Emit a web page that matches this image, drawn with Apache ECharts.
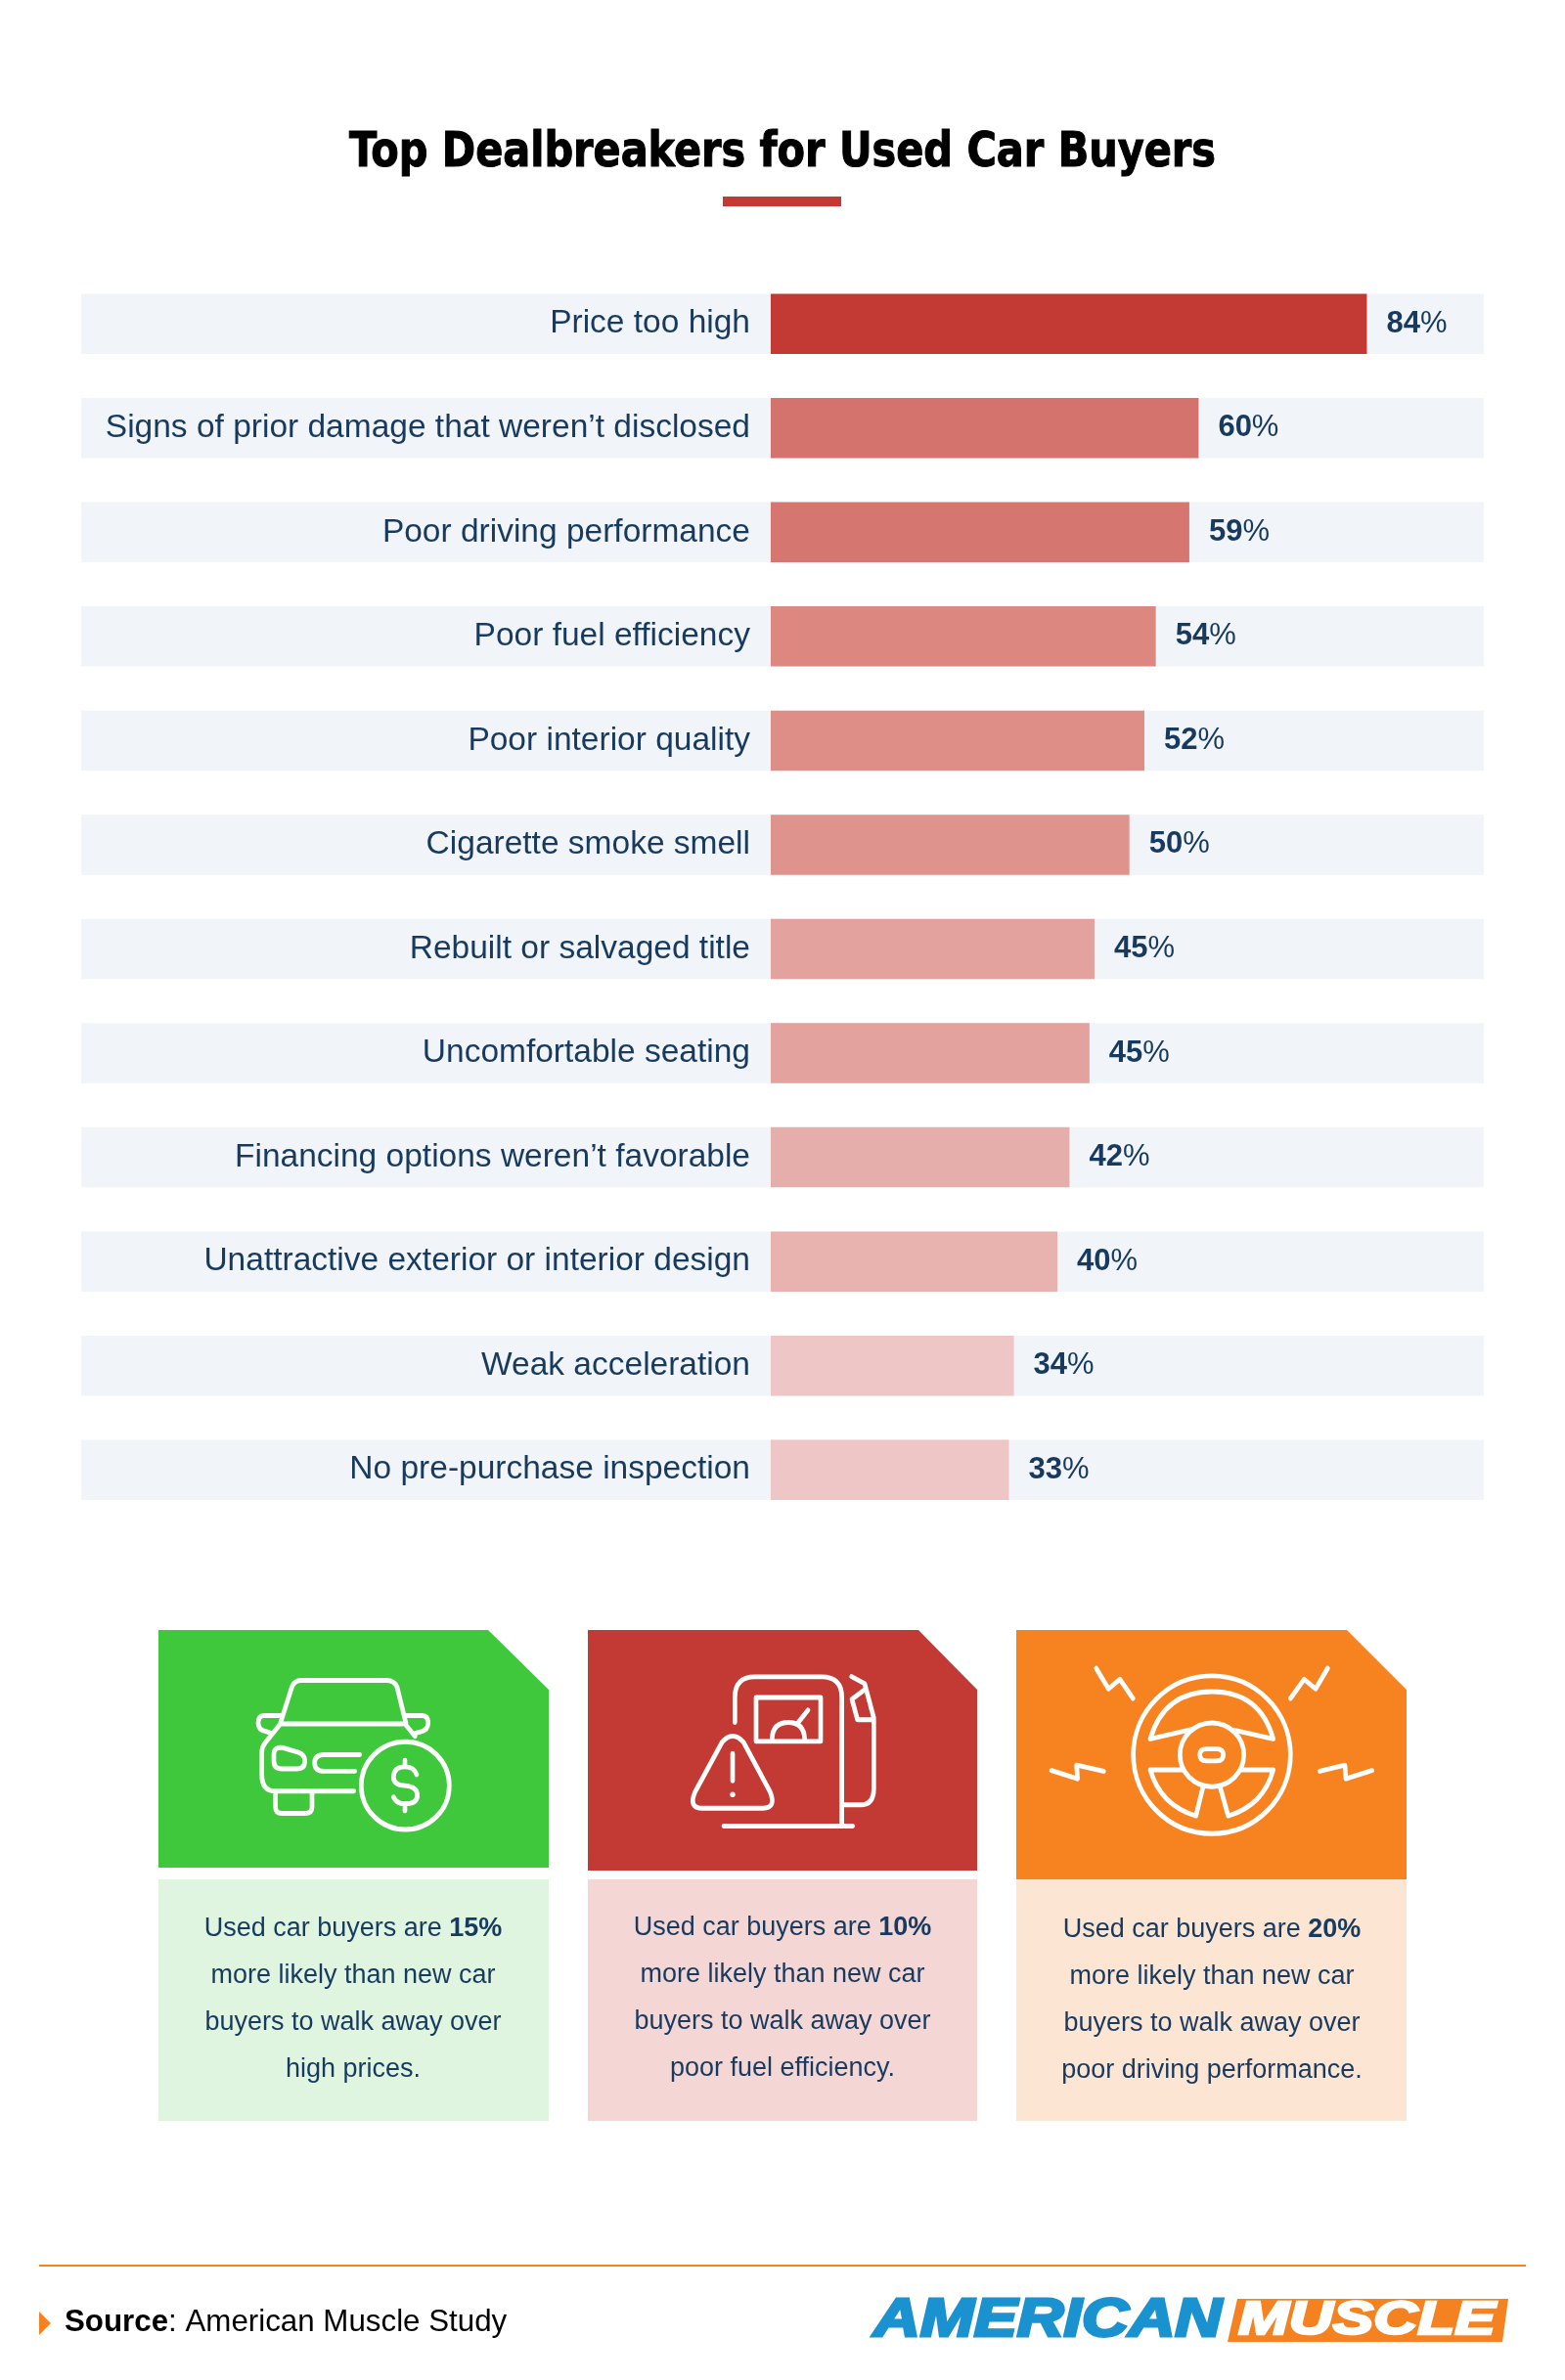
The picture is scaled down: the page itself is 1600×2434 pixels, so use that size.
<!DOCTYPE html>
<html><head><meta charset="utf-8">
<style>html,body{margin:0;padding:0;background:#fff}#c{width:1600px;height:2434px}</style>
<script src="https://cdn.jsdelivr.net/npm/echarts@6/dist/echarts.min.js"></script>
</head><body><div id="c"></div>
<script>
const titleText = 'Top Dealbreakers for Used Car Buyers';
const categories = ['Price too high','Signs of prior damage that weren\u2019t disclosed','Poor driving performance','Poor fuel efficiency','Poor interior quality','Cigarette smoke smell','Rebuilt or salvaged title','Uncomfortable seating','Financing options weren\u2019t favorable','Unattractive exterior or interior design','Weak acceleration','No pre-purchase inspection'];
const values = [83.6,60,58.7,54,52.4,50.3,45.4,44.7,41.9,40.2,34.1,33.4];
const barColors = ['#c23a33','#d4736e','#d57671','#dc8780','#de8d87','#df938d','#e3a29e','#e3a29e','#e6aeaa','#e8b3af','#eec6c5','#eec6c5'];
const cardLines = [
  [['Used car buyers are ','15%'],'more likely than new car','buyers to walk away over','high prices.'],
  [['Used car buyers are ','10%'],'more likely than new car','buyers to walk away over','poor fuel efficiency.'],
  [['Used car buyers are ','20%'],'more likely than new car','buyers to walk away over','poor driving performance.']
];
const INK='#173a5e', BODY='"Liberation Sans", Arial, sans-serif';

function reg(name,d){echarts.graphic.registerShape(name,echarts.graphic.extendPath(d));return name;}
const iconPaths={
 car:['M440 320L475 215Q482 195 505 195L765 195Q790 195 798 215L825 320','M445 322L815 322','M440 298L390 298Q372 298 372 320Q372 340 395 344L415 350','M825 298L875 298Q893 298 893 320Q893 340 870 345L850 350','M440 322L395 375Q383 390 383 405L383 470Q383 518 425 518L665 518','M822 322L853 358','M450 392L495 405Q515 412 515 430Q515 453 490 453L445 453Q420 453 420 430L420 410Q420 388 450 392Z','M683 412L575 412Q545 412 545 435Q545 460 575 460L668 460','M425 522L425 565Q425 583 445 583L515 583Q537 583 537 565L537 522','M858 470Q850 447 822 447Q787 447 787 478Q787 500 822 502Q860 505 860 530Q860 555 822 555Q795 555 787 535','M822 428L822 447','M822 556L822 576'],
 pump:['M484 318L484 245Q484 185 545 185L750 185Q812 185 812 245L812 618','M450 620L845 620','M549 245L747 245L747 373L549 373Z','M598 365Q600 318 648 318Q695 318 698 365','M678 318L708 282','M815 558L870 558Q910 558 910 510L910 305L882 205L842 184','M882 222L843 250L860 310L905 310','M445 375Q477 340 510 375L592 520Q612 568 570 568L385 568Q340 568 362 520Z','M477 408L477 488'],
 wheel:['M565 338L438 366Q480 228 627 228Q775 228 815 366L695 340','M540 456L438 456Q470 560 578 590L600 505','M715 456L815 456Q785 560 677 590L652 505','M272 160L310 220L345 192L385 248','M982 160L945 220L910 192L868 248','M135 458L215 482L212 442L295 460','M1118 458L1038 482L1035 442L958 460','M610 395L642 395Q662 395 662 412Q662 430 642 430L610 430Q590 430 590 412Q590 395 610 395Z']
};
const shapeNames={};
Object.keys(iconPaths).forEach(k=>{shapeNames[k]=reg('icon_'+k,iconPaths[k].join(''));});
const stroke={stroke:'#fff',fill:'none',lineWidth:14,lineCap:'round',lineJoin:'round'};

const cards=[
 {x:162,r:561,cut:499,bottom:1910,c:'#40c83c',l:'#e0f5e0',cx:361,y0:1972.5,icon:'car',ox:140},
 {x:601,r:999,cut:939,bottom:1913,c:'#c23a33',l:'#f4d7d5',cx:800,y0:1971.5,icon:'pump',ox:590},
 {x:1039,r:1438,cut:1377,bottom:1922,c:'#f78320',l:'#fde5d3',cx:1239,y0:1973.5,icon:'wheel',ox:1030}
];
const g=[];
g.push({type:'text',x:800,y:157,scaleX:0.94,style:{text:titleText,fontSize:49,fontWeight:'bold',fontFamily:'"DejaVu Sans Condensed","DejaVu Sans"',fontStretch:'condensed',fill:'#000',stroke:'#000',lineWidth:1,align:'center',verticalAlign:'middle'}});
g.push({type:'rect',shape:{x:739,y:201,width:121,height:10},style:{fill:'#c23a33'}});
cards.forEach((c,i)=>{
  g.push({type:'rect',shape:{x:c.x,y:1922,width:c.r-c.x,height:247},style:{fill:c.l}});
  g.push({type:'polygon',shape:{points:[[c.x,1667],[c.cut,1667],[c.r,1728],[c.r,c.bottom],[c.x,c.bottom]]},style:{fill:c.c}});
  const iconChildren=[{type:shapeNames[c.icon],style:stroke}];
  if(c.icon==='car') iconChildren.push({type:'ellipse',shape:{cx:823,cy:502,rx:135,ry:128},style:stroke});
  if(c.icon==='pump') iconChildren.push({type:'circle',shape:{cx:477,cy:528,r:8},style:{fill:'#fff'}});
  if(c.icon==='wheel'){iconChildren.push({type:'ellipse',shape:{cx:627,cy:412,rx:241,ry:230},style:stroke});iconChildren.push({type:'ellipse',shape:{cx:627,cy:412,rx:98,ry:93},style:stroke});}
  g.push({type:'group',x:c.ox,y:1650,scaleX:1/3,scaleY:1/2.85,children:iconChildren});
  cardLines[i].forEach((ln,j)=>{
    const txt=Array.isArray(ln)?ln[0]+'{b|'+ln[1]+'}':ln;
    g.push({type:'text',x:c.cx,y:c.y0+j*48,style:{text:txt,fontSize:27,fontFamily:BODY,fill:INK,align:'center',verticalAlign:'middle',rich:{b:{fill:INK,fontWeight:'bold',fontSize:27,fontFamily:BODY}}}});
  });
});
// footer
g.push({type:'rect',shape:{x:40,y:2316,width:1520,height:2},style:{fill:'#f58220'}});
g.push({type:'polygon',shape:{points:[[40,2364],[52,2376],[40,2388]]},style:{fill:'#f58220'}});
g.push({type:'text',x:66,y:2375,style:{text:'{b|Source}: American Muscle Study',fontSize:31.3,fontFamily:BODY,fill:'#000',align:'left',verticalAlign:'middle',rich:{b:{fontWeight:'bold',fontSize:31.3,fontFamily:BODY,fill:'#000'}}}});
g.push({type:'polygon',shape:{points:[[1265,2351],[1542,2351],[1536,2395],[1255,2395]]},style:{fill:'#f58220'}});
g.push({type:'text',x:893,y:2374,scaleX:1.18,style:{text:'AMERICAN',fontSize:56,fontWeight:'bold',fontStyle:'italic',fontFamily:BODY,fill:'#1a92cf',stroke:'#1a92cf',lineWidth:3,align:'left',verticalAlign:'middle'}});
g.push({type:'text',x:1266,y:2373,scaleX:1.27,style:{text:'MUSCLE',fontSize:49,fontWeight:'bold',fontStyle:'italic',fontFamily:BODY,fill:'#fff',stroke:'#fff',lineWidth:2.5,align:'left',verticalAlign:'middle'}});

const chart=echarts.init(document.getElementById('c'),null,{renderer:'canvas',width:1600,height:2434});
chart.setOption({
  animation:false,
  backgroundColor:'#fff',
  grid:{left:83,width:1434,top:277.9,height:1278.6,outerBoundsMode:'none',containLabel:false},
  xAxis:{type:'value',min:-96.7,max:100,show:false,splitLine:{show:false}},
  yAxis:{type:'category',inverse:true,data:categories,z:10,
    axisLine:{show:false},axisTick:{show:false},
    axisLabel:{color:INK,fontSize:33.5,fontFamily:BODY,margin:-684,align:'right'}},
  series:[{type:'bar',data:values,barWidth:61.5,z:2,
    showBackground:true,backgroundStyle:{color:'#f1f4f8'},
    itemStyle:{color:p=>barColors[p.dataIndex]},
    label:{show:true,position:'right',distance:20,color:INK,fontSize:31,fontFamily:BODY,
      formatter:p=>'{n|'+Math.round(p.value)+'}{p|%}',
      rich:{n:{color:INK,fontSize:31,fontWeight:'bold',fontFamily:BODY},p:{color:INK,fontSize:31,fontFamily:BODY}}}}],
  graphic:{elements:g}
});
</script></body></html>
